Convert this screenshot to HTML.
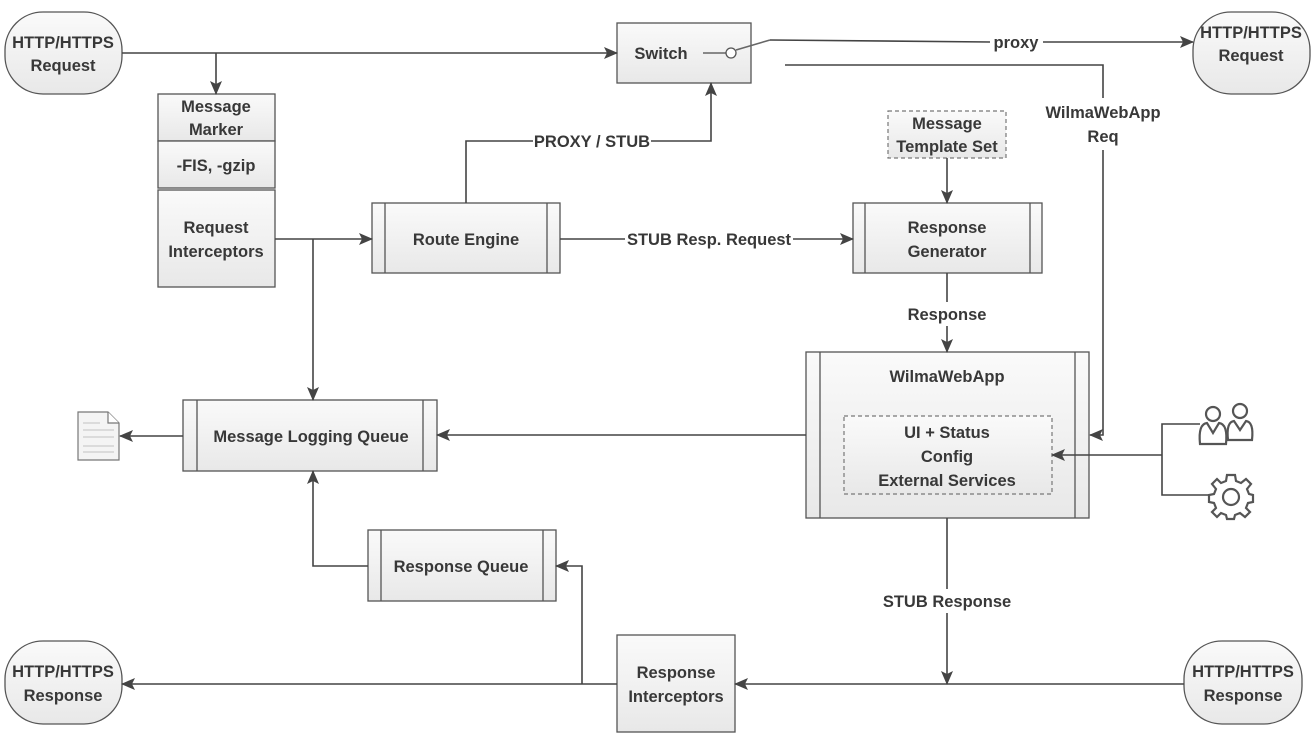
<!DOCTYPE html>
<html><head><meta charset="utf-8"><style>
html,body{margin:0;padding:0;background:#fff;}
svg{display:block;}
text{font-family:"Liberation Sans",sans-serif;font-weight:bold;font-size:16.5px;fill:#383838;text-anchor:middle;}
</style></head><body>
<svg width="1315" height="736" viewBox="0 0 1315 736" xmlns="http://www.w3.org/2000/svg">
<defs>
<linearGradient id="g" x1="0" y1="0" x2="0" y2="1"><stop offset="0" stop-color="#fafafa"/><stop offset="1" stop-color="#e8e8e8"/></linearGradient>
<marker id="a" markerWidth="14" markerHeight="12" refX="13" refY="6" orient="auto" markerUnits="userSpaceOnUse"><path d="M0,0 L14,6 L0,12 L3,6 Z" fill="#444"/></marker>
</defs>
<g stroke="#555" stroke-width="1.3" fill="url(#g)">
<rect x="5" y="12" width="117" height="82" rx="38" ry="38"/>
<rect x="1193" y="12" width="117" height="82" rx="38" ry="38"/>
<rect x="5" y="641" width="117" height="83" rx="38" ry="38"/>
<rect x="1184" y="641" width="118" height="83" rx="38" ry="38"/>
<rect x="158" y="94" width="117" height="47"/>
<rect x="158" y="141" width="117" height="47"/>
<rect x="158" y="190" width="117" height="97"/>
<rect x="617" y="23" width="134" height="60"/>
<rect x="372" y="203" width="188" height="70"/><line x1="385" y1="203" x2="385" y2="273"/><line x1="547" y1="203" x2="547" y2="273"/>
<rect x="853" y="203" width="189" height="70"/><line x1="865" y1="203" x2="865" y2="273"/><line x1="1030" y1="203" x2="1030" y2="273"/>
<rect x="806" y="352" width="283" height="166"/><line x1="820" y1="352" x2="820" y2="518"/><line x1="1075" y1="352" x2="1075" y2="518"/>
<rect x="183" y="400" width="254" height="71"/><line x1="197" y1="400" x2="197" y2="471"/><line x1="423" y1="400" x2="423" y2="471"/>
<rect x="368" y="530" width="188" height="71"/><line x1="381" y1="530" x2="381" y2="601"/><line x1="543" y1="530" x2="543" y2="601"/>
<rect x="617" y="635" width="118" height="97"/>
</g>
<g stroke="#777" stroke-width="1.2" fill="url(#g)" stroke-dasharray="4,3">
<rect x="888" y="111" width="118" height="47"/>
<rect x="844" y="416" width="208" height="78"/>
</g>
<g stroke="#777" stroke-width="1.2">
<path d="M78,412 L108,412 L119,423 L119,460 L78,460 Z" fill="#f4f4f4"/>
<path d="M108,412 L108,423 L119,423" fill="#fff"/>
<g stroke="#ccc"><line x1="83" y1="423" x2="100" y2="423"/><line x1="83" y1="430" x2="114" y2="430"/><line x1="83" y1="437" x2="114" y2="437"/><line x1="83" y1="446" x2="114" y2="446"/><line x1="83" y1="452" x2="114" y2="452"/></g>
</g>
<g stroke="#444" stroke-width="1.6" fill="none">
<line x1="122" y1="53" x2="617" y2="53" marker-end="url(#a)"/>
<line x1="216" y1="53" x2="216" y2="94" marker-end="url(#a)"/>
<line x1="275" y1="239" x2="372" y2="239" marker-end="url(#a)"/>
<line x1="313" y1="239" x2="313" y2="400" marker-end="url(#a)"/>
<polyline points="466,203 466,141 533,141"/>
<polyline points="651,141 711,141 711,83" marker-end="url(#a)"/>
<line x1="560" y1="239" x2="625" y2="239"/>
<line x1="793" y1="239" x2="853" y2="239" marker-end="url(#a)"/>
<line x1="947" y1="158" x2="947" y2="203" marker-end="url(#a)"/>
<line x1="947" y1="273" x2="947" y2="302"/>
<line x1="947" y1="326" x2="947" y2="352" marker-end="url(#a)"/>
<line x1="806" y1="435" x2="437" y2="435" marker-end="url(#a)"/>
<line x1="183" y1="436" x2="120" y2="436" marker-end="url(#a)"/>
<polyline points="368,566 313,566 313,471" marker-end="url(#a)"/>
<line x1="947" y1="518" x2="947" y2="589"/>
<line x1="947" y1="613" x2="947" y2="684" marker-end="url(#a)"/>
<line x1="1184" y1="684" x2="735" y2="684" marker-end="url(#a)"/>
<line x1="617" y1="684" x2="122" y2="684" marker-end="url(#a)"/>
<polyline points="582,684 582,566 556,566" marker-end="url(#a)"/>
<polyline points="1200,424 1162,424 1162,495 1210,495"/>
<line x1="1162" y1="455" x2="1052" y2="455" marker-end="url(#a)"/>
<line x1="703" y1="53" x2="726" y2="53" stroke="#666"/>
<line x1="736" y1="50" x2="770" y2="40" stroke="#666"/>
<line x1="770" y1="40" x2="990" y2="42"/>
<line x1="1043" y1="42" x2="1193" y2="42" marker-end="url(#a)"/>
<polyline points="785,65 1103,65 1103,98"/>
<polyline points="1103,150 1103,435 1090,435" marker-end="url(#a)"/>
</g>
<circle cx="731" cy="53" r="5" fill="#fff" stroke="#555" stroke-width="1.3"/>
<g stroke="#555" stroke-width="2.2" fill="#fff">
<circle cx="1240" cy="411" r="7"/>
<path d="M1228,440 Q1226,422 1234,421 L1240,430 L1246,421 Q1254,422 1252,440 Z"/>
<circle cx="1213" cy="414" r="7"/>
<path d="M1200,444 Q1198,424 1207,423 L1213,433 L1219,423 Q1228,424 1226,444 Z"/>
</g>
<g transform="translate(1231,496)" stroke="#555" stroke-width="2.2" fill="#fff">
<path d="M-4,-21 L4,-21 L5,-15 L10,-13 L15,-17 L20,-12 L16,-7 L18,-2 L22,-1 L22,6 L17,7 L15,12 L19,16 L14,21 L9,17 L4,19 L3,23 L-4,23 L-5,19 L-10,17 L-14,21 L-19,16 L-15,12 L-17,7 L-22,6 L-22,-1 L-17,-2 L-15,-7 L-19,-12 L-14,-17 L-10,-13 L-5,-15 Z"/>
<circle cx="0" cy="1" r="8"/>
</g>
<text x="63" y="48">HTTP/HTTPS</text><text x="63" y="71">Request</text>
<text x="1251" y="38">HTTP/HTTPS</text><text x="1251" y="61">Request</text>
<text x="63" y="677">HTTP/HTTPS</text><text x="63" y="701">Response</text>
<text x="1243" y="677">HTTP/HTTPS</text><text x="1243" y="701">Response</text>
<text x="216" y="112">Message</text><text x="216" y="135">Marker</text>
<text x="216" y="171">-FIS, -gzip</text>
<text x="216" y="233">Request</text><text x="216" y="257">Interceptors</text>
<text x="661" y="59">Switch</text>
<text x="1016" y="48">proxy</text>
<text x="1103" y="118">WilmaWebApp</text><text x="1103" y="142">Req</text>
<text x="947" y="129">Message</text><text x="947" y="152">Template Set</text>
<text x="592" y="147">PROXY / STUB</text>
<text x="466" y="245">Route Engine</text>
<text x="709" y="245">STUB Resp. Request</text>
<text x="947" y="233">Response</text><text x="947" y="257">Generator</text>
<text x="947" y="320">Response</text>
<text x="947" y="382">WilmaWebApp</text>
<text x="947" y="438">UI + Status</text><text x="947" y="462">Config</text><text x="947" y="486">External Services</text>
<text x="311" y="442">Message Logging Queue</text>
<text x="461" y="572">Response Queue</text>
<text x="947" y="607">STUB Response</text>
<text x="676" y="678">Response</text><text x="676" y="702">Interceptors</text>
</svg>
</body></html>
